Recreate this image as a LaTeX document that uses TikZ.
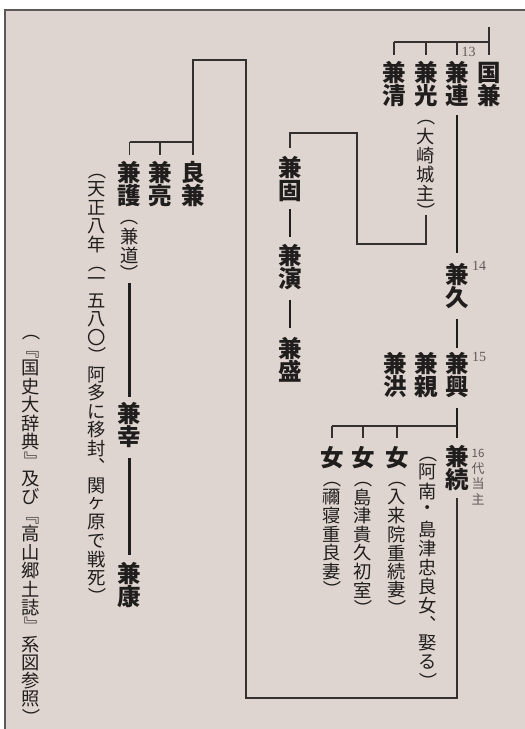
\documentclass[tikz,border=0pt]{standalone}
\usepackage{fontspec}
\usepackage{graphicx}
\newfontfamily\jp{Noto Sans CJK JP}
\newfontfamily\lser{Liberation Serif}
\definecolor{paper}{RGB}{223,213,208}
\definecolor{ink}{RGB}{32,29,29}
\definecolor{lnk}{RGB}{52,48,48}
\definecolor{sub}{RGB}{95,90,90}
\definecolor{frm}{RGB}{90,88,88}
\newlength\vp \newlength\vw
\def\vcell#1{\hbox to\vw{\hss\vbox to\vp{\vss\hbox{#1}\vss}\hss}}
\def\vhalf{\hbox to\vw{\hss\vbox to .5\vp{\hbox{\RP}\vss}\hss}}
\def\vtextEnd{VTEXTEND}
\def\RPh{RPHALF}
\def\vtext#1{\vbox{\offinterlineskip\vtextA#1\vtextEnd}}
\def\vtextA#1{\ifx#1\vtextEnd\else\ifx#1\RPh\vhalf\else\vcell{#1}\fi\expandafter\vtextA\fi}
\newcommand\LP{\rotatebox[origin=c]{-90}{（}}
\newcommand\RP{\rotatebox[origin=c]{-90}{）}}
\newcommand\LB{\rotatebox[origin=c]{-90}{『}}
\newcommand\RB{\rotatebox[origin=c]{-90}{』}}
\newcommand\CM{\raisebox{0pt}[.88em][.12em]{︑}}
\newcommand\SX{\hbox{\fontsize{11.5}{12}\selectfont 16}}
\tikzset{
  nm/.style={inner sep=0pt, anchor=north, text=ink,
    font=\jp\bfseries\fontsize{23.5}{23}\selectfont\setlength\vp{23pt}\setlength\vw{23pt}},
  an/.style={inner sep=0pt, anchor=north, text=ink,
    font=\jp\fontsize{18.3}{19}\selectfont\setlength\vp{19pt}\setlength\vw{19pt}},
  sm/.style={inner sep=0pt, anchor=north, text=sub,
    font=\jp\fontsize{13}{15}\selectfont\setlength\vp{15.5pt}\setlength\vw{15.5pt}},
  num/.style={inner sep=0pt, text=sub, font=\lser\fontsize{14}{14}\selectfont},
  desc/.style={draw=ink, line width=2.2pt},
  bar/.style={draw=lnk, line width=1.7pt},
  link/.style={draw=lnk, line width=1.5pt},
}
\begin{document}
\begin{tikzpicture}[x=1pt,y=-1pt]
\useasboundingbox (0,0) rectangle (525,729);
\fill[white] (0,0) rectangle (525,729);
\fill[paper] (5,10) rectangle (525,729);
\draw[frm, line width=1.3pt] (5,729) -- (5,10) -- (525,10);

% --- top family ---
\node[nm] (kuni) at (489,61) {\vtext{国兼}};
\node[nm] (tsura) at (457,61) {\vtext{兼連}};
\node[nm] (mitsu) at (426,61) {\vtext{兼光}};
\node[nm] (kiyo) at (394,61) {\vtext{兼清}};
\node[an] (oosaki) at (mitsu.south) {\vtext{\LP 大崎城主\RP}};
\node[num] (n13) at (468.5,52) {13};
\coordinate (top) at (489,27);
\coordinate (bar1) at (489,42);
\draw[bar] (top) -- ([yshift=6pt]kuni.north);
\draw[bar] (kiyo.north |- bar1) -- (bar1);
\foreach \n in {kiyo,mitsu,tsura} \draw[bar] (\n.north |- bar1) -- ([yshift=6pt]\n.north);

% --- main line ---
\node[nm] (hisa) at (457,262.5) {\vtext{兼久}};
\node[num] (n14) at (479,266) {14};
\draw[desc, shorten <=8pt, shorten >=9.5pt] (tsura.south) -- (hisa.north);
\node[nm] (oki) at (457,352) {\vtext{兼興}};
\node[nm] (chika) at (426,352) {\vtext{兼親}};
\node[nm] (hiro) at (395,352) {\vtext{兼洪}};
\node[num] (n15) at (479,357) {15};
\draw[desc, shorten <=10pt, shorten >=4pt] (hisa.south) -- (oki.north);

\node[nm] (tsugu) at (457,445) {\vtext{兼続}};
\node[sm] (dai) at (478,445) {\vtext{\SX 代当主}};
\node[an] (anan) at (428,443.5) {\vtext{\LP 阿南・島津忠良女\CM 娶る\RP}};
\node[nm] (o1) at (397,446) {\vtext{女}};
\node[nm] (o2) at (363,446) {\vtext{女}};
\node[nm] (o3) at (332,446) {\vtext{女}};
\node[an] (a1) at (o1.south) {\setlength\vp{18.5pt}\vtext{\LP 入来院重続妻\RP}};
\node[an] (a2) at (o2.south) {\setlength\vp{18.5pt}\vtext{\LP 島津貴久初室\RP}};
\node[an] (a3) at (o3.south) {\setlength\vp{18.5pt}\vtext{\LP 禰寝重良妻\RP}};
\coordinate (bar3) at (457,426);
\draw[desc, shorten <=10pt, shorten >=7pt] (oki.south) -- (tsugu.north);
\draw[bar] (o3.north |- bar3) -- (bar3);
\foreach \n in {o1,o2,o3} \draw[bar] (\n.north |- bar3) -- ([yshift=8pt]\n.north);

% --- Kanekata branch ---
\node[nm] (kata) at (290,156) {\vtext{兼固}};
\node[nm] (nobu) at (290,243.5) {\vtext{兼演}};
\node[nm] (sakari) at (290,337) {\vtext{兼盛}};
\draw[desc, shorten <=6.5pt, shorten >=6.5pt] (kata.south) -- (nobu.north);
\draw[desc, shorten <=10pt, shorten >=9pt] (nobu.south) -- (sakari.north);
\coordinate (c1) at (357,244);
\coordinate (c2) at (357,133);
\draw[link] ([yshift=7pt]oosaki.south) |- (c1) -- (c2) -| ([yshift=8pt]kata.north);

% --- Yoshikane branch ---
\node[nm] (yoshi) at (193,161) {\vtext{良兼}};
\node[nm] (suke) at (160,161) {\vtext{兼亮}};
\node[nm] (mori) at (129.5,161) {\vtext{兼護}};
\node[an] (michi) at (mori.south) {\vtext{\LP 兼道\RP}};
\coordinate (bar2) at (193,142);
\draw[bar] (mori.north |- bar2) -- (bar2);
\foreach \n in {mori,suke} \draw[bar] (\n.north |- bar2) -- ([yshift=6pt]\n.north);
\node[nm] (yuki) at (129.5,402) {\vtext{兼幸}};
\node[nm] (yasu) at (129.5,562) {\vtext{兼康}};
\draw[desc] ([yshift=1pt]michi.south) -- ([yshift=5pt]yuki.north);
\draw[desc, shorten <=9.5pt, shorten >=7pt] (yuki.south) -- (yasu.north);
\node[an] (tensho) at (97,161.5) {\setlength\vp{18.5pt}\vtext{\LP 天正八年\LP 一五八〇\RP 阿多に移封\CM 関ヶ原で戦死\RP}};

% --- long link ---
\coordinate (c3) at (246,698);
\coordinate (c4) at (246,60);
\draw[link] ([yshift=-7pt]tsugu.south) |- (c3) -- (c4) -| ([yshift=6pt]yoshi.north);

% --- source note ---
\node[an] (ref) at (31,322) {\setlength\vp{18.4pt}\vtext{\LP\LB 国史大辞典\RB 及び\LB 高山郷土誌\RB 系図参照\RPh}};
\end{tikzpicture}
\end{document}
